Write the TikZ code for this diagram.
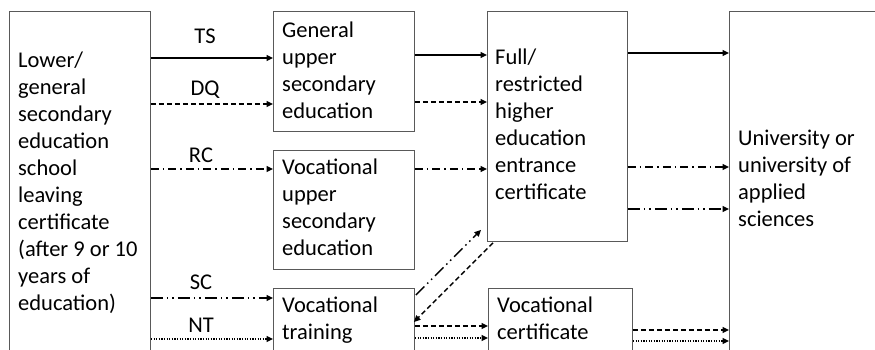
\documentclass[tikz,border=0pt]{standalone}
\usepackage{fontspec}
\setmainfont{Carlito}
\usetikzlibrary{arrows.meta,calc}
\newcommand{\mlines}[1]{\begin{tabular}[t]{@{}l@{}}#1\end{tabular}}
\begin{document}
\begin{tikzpicture}[x=1pt,y=-1pt,
  box/.style={draw=black!65,line width=0.9pt,inner sep=0pt,anchor=north west},
  txt/.style={anchor=base west,inner sep=0pt,font=\fontsize{22.5}{27}\selectfont},
  lab/.style={inner sep=0pt,font=\fontsize{22.5}{27}\selectfont},
  arr/.style={line width=1.4pt,-{Triangle[length=6.5pt,width=6pt]}},
  sdash/.style={dash pattern=on 5pt off 3pt},
  sdashdot/.style={dash pattern=on 8pt off 4pt on 1.5pt off 4pt},
  sdashdotdot/.style={dash pattern=on 12pt off 4pt on 1.5pt off 4pt on 1.5pt off 4pt},
  sdot/.style={dash pattern=on 1.3pt off 1.3pt}]
\useasboundingbox (0,0) rectangle (875,349);
\clip (0,0) rectangle (875,349);
% boxes
\node[box,minimum width=141pt,minimum height=400pt] (ls) at (9,11) {};
\node[box,minimum width=141pt,minimum height=120pt] (gu) at (273,11) {};
\node[box,minimum width=141pt,minimum height=119pt] (vu) at (273,150) {};
\node[box,minimum width=141pt,minimum height=100pt] (vt) at (273,288) {};
\node[box,minimum width=140pt,minimum height=230pt] (fu) at (487,11) {};
\node[box,minimum width=144pt,minimum height=100pt] (vc) at (488,288) {};
\node[box,minimum width=200pt,minimum height=400pt] (un) at (729,11) {};
% texts
\node[txt] (tls) at (18,67) {\mlines{Lower/\\general\\secondary\\education\\school\\leaving\\certificate\\(after 9 or 10\\years of\\education)}};
\node[txt] (tgu) at (282,37) {\mlines{General\\upper\\secondary\\education}};
\node[txt] (tvu) at (282,174) {\mlines{Vocational\\upper\\secondary\\education}};
\node[txt] (tvt) at (282,312) {\mlines{Vocational\\training}};
\node[txt] (tfu) at (495,64) {\mlines{Full/\\restricted\\higher\\education\\entrance\\certificate}};
\node[txt] (tvc) at (497,312) {\mlines{Vocational\\certificate}};
\node[txt] (tun) at (738,145) {\mlines{University or\\university of\\applied\\sciences}};
% labels
\node[lab] (lts) at (205,36) {TS};
\node[lab] (ldq) at (205,90) {DQ};
\node[lab] (lrc) at (201,155) {RC};
\node[lab] (lsc) at (201,282) {SC};
\node[lab] (lnt) at (201,325) {NT};
% arrows from left box
\draw[arr] (ls.east |- 0,58) -- (gu.west |- 0,58);
\draw[arr,sdash] (ls.east |- 0,104) -- (gu.west |- 0,104);
\draw[arr,sdashdot] (ls.east |- 0,169) -- (vu.west |- 0,169);
\draw[arr,sdashdotdot] (ls.east |- 0,298) -- (vt.west |- 0,298);
\draw[arr,sdot] (ls.east |- 0,339) -- (vt.west |- 0,339);
% to full
\draw[arr] (gu.east |- 0,55) -- (fu.west |- 0,55);
\draw[arr,sdash] (gu.east |- 0,102) -- (fu.west |- 0,102);
\draw[arr,sdashdot] (vu.east |- 0,169) -- (fu.west |- 0,169);
% to university
\draw[arr] (fu.east |- 0,53) -- (un.west |- 0,53);
\draw[arr,sdashdot] (fu.east |- 0,167) -- (un.west |- 0,167);
\draw[arr,sdashdotdot] (fu.east |- 0,209) -- (un.west |- 0,209);
% diagonals
\draw[arr,sdashdotdot] ($(vt.north east)+(1,7)$) -- ($(fu.south west)+(-6,-12)$);
\draw[arr,sdash] ($(fu.south west)+(6,1)$) -- ($(vt.north east)+(-1,34)$);
% training to certificate
\draw[arr,sdash] (vt.east |- 0,326) -- (vc.west |- 0,326);
\draw[arr,sdot] (vt.east |- 0,338) -- (vc.west |- 0,338);
\draw[arr,sdash] (vc.east |- 0,330) -- (un.west |- 0,330);
\draw[arr,sdot] (vc.east |- 0,341) -- (un.west |- 0,341);
\end{tikzpicture}
\end{document}
